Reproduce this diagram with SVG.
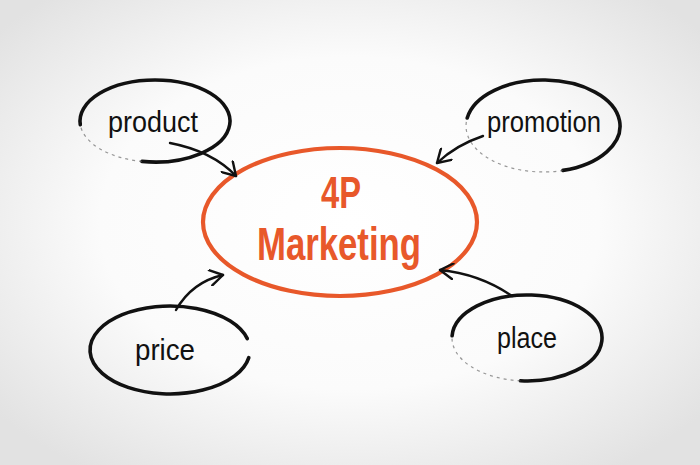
<svg xmlns="http://www.w3.org/2000/svg" width="700" height="465" viewBox="0 0 700 465">
  <defs>
    <radialGradient id="bg" cx="50%" cy="48%" r="65%">
      <stop offset="0" stop-color="#ffffff"/>
      <stop offset="0.55" stop-color="#fbfbfb"/>
      <stop offset="1" stop-color="#e2e2e2"/>
    </radialGradient>
    <marker id="head" viewBox="0 0 12 12" refX="10" refY="6" markerWidth="17" markerHeight="17" markerUnits="userSpaceOnUse" orient="auto">
      <path d="M1,0.5 L10,6 L1,11.5" fill="none" stroke="#111" stroke-width="1.7" stroke-linecap="round" stroke-linejoin="round"/>
    </marker>
    <style>
      .sk { fill: none; stroke: #111; stroke-width: 3.6; stroke-linecap: round; }
      .faint { fill: none; stroke: #555; stroke-width: 1.2; stroke-dasharray: 3 4; opacity: 0.6; }
      .arr { fill: none; stroke: #111; stroke-width: 2.4; stroke-linecap: round; marker-end: url(#head); }
      .lbl { font-family: "Liberation Sans", "DejaVu Sans", sans-serif; font-size: 30px; fill: #111; text-anchor: middle; }
      .main { font-family: "Liberation Sans", "DejaVu Sans", sans-serif; font-weight: bold; fill: #e8582a; text-anchor: middle; }
    </style>
  </defs>
  <rect width="700" height="465" fill="url(#bg)"/>

  <g id="center">
    <ellipse cx="340" cy="222" rx="137" ry="74" fill="none" stroke="#e8582a" stroke-width="4.2"/>
    <text class="main" x="341" y="208" font-size="44" textLength="40" lengthAdjust="spacingAndGlyphs">4P</text>
    <text class="main" x="339" y="260" font-size="46" textLength="164" lengthAdjust="spacingAndGlyphs">Marketing</text>
  </g>

  <g id="product">
    <path class="sk" d="M80.3,124.6 A75,41 0 1 1 142,161.4"/>
    <path class="faint" d="M142,161.4 A75,41 0 0 1 80.3,124.6"/>
    <text class="lbl" x="153" y="132" textLength="90" lengthAdjust="spacingAndGlyphs">product</text>
  </g>

  <g id="promotion">
    <path class="sk" d="M467.2,118 A77,46 0 1 1 563,170.4"/>
    <path class="faint" d="M563,170.4 A77,46 0 0 1 467.2,118"/>
    <text class="lbl" x="544" y="132" textLength="114" lengthAdjust="spacingAndGlyphs">promotion</text>
  </g>

  <g id="price">
    <path class="sk" d="M248.8,357.6 A80,44 0 1 1 247.3,338.6"/>
    <text class="lbl" x="165" y="360" textLength="60" lengthAdjust="spacingAndGlyphs">price</text>
  </g>

  <g id="place">
    <path class="sk" d="M452.1,335.8 A75,43 0 1 1 520.5,380.8"/>
    <path class="faint" d="M520.5,380.8 A75,43 0 0 1 452.1,335.8"/>
    <text class="lbl" x="527" y="348" textLength="60" lengthAdjust="spacingAndGlyphs">place</text>
  </g>

  <g id="connectors">
    <path class="arr" d="M170,143 Q212,151 236,176"/>
    <path class="arr" d="M483,136 Q456,145 437,163"/>
    <path class="arr" d="M176,310 Q192,282 223,275"/>
    <path class="arr" d="M512,296 Q480,274 440,270"/>
  </g>
</svg>
